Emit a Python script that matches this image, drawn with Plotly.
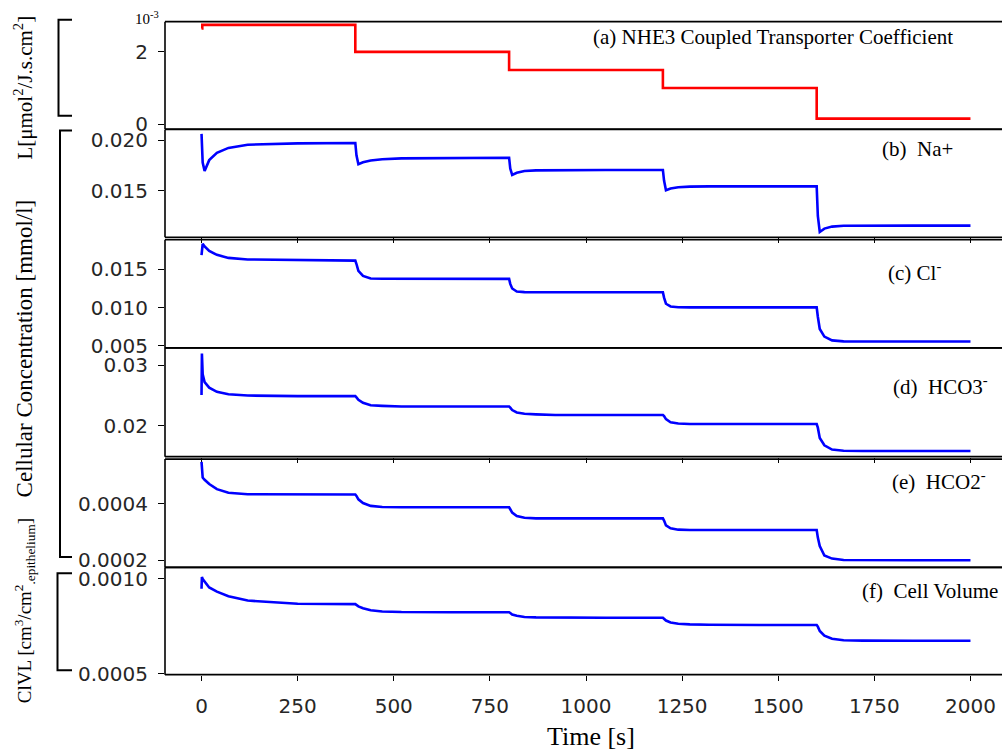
import plotly.graph_objects as go

W, H = 1002, 756

# ---- data -------------------------------------------------------------
# NHE3 coupled transporter coefficient, lowered every 400 s
time_L = [0, 2, 400, 800, 1200, 1600, 2000]
L_nhe3 = [2.65e-3, 2.75e-3, 2.00e-3, 1.50e-3, 1.00e-3, 0.15e-3, 0.15e-3]

# simulation output times for the cellular quantities [s]
time_s = [0, 1, 3, 8, 20, 40, 70, 120, 250,
          400, 403, 408, 420, 440, 470, 520, 650,
          800, 803, 808, 820, 840, 870, 920, 1050,
          1200, 1203, 1208, 1220, 1240, 1270, 1320, 1450,
          1600, 1603, 1608, 1620, 1640, 1670, 1720, 1850,
          2000]

na_conc = [0.02063, 0.0196, 0.0178, 0.01695, 0.01803, 0.01875, 0.01924, 0.01956, 0.01969,
           0.01973, 0.0185, 0.01762, 0.01782, 0.01800, 0.01812, 0.01820, 0.01826,
           0.01827, 0.0172, 0.01657, 0.01678, 0.01695, 0.01702, 0.01705, 0.01706,
           0.01706, 0.0160, 0.01505, 0.01522, 0.01535, 0.01541, 0.01543, 0.01544,
           0.01544, 0.0125, 0.01092, 0.01125, 0.01145, 0.01153, 0.01155, 0.01155,
           0.01155]

cl_conc = [0.01686, 0.0178, 0.01835, 0.0180, 0.0174, 0.0169, 0.0165, 0.0163, 0.0162,
           0.01615, 0.0157, 0.0148, 0.01415, 0.0138, 0.01377, 0.01376, 0.01376,
           0.01376, 0.0131, 0.0125, 0.0121, 0.01202, 0.0120, 0.0120, 0.0120,
           0.0120, 0.0113, 0.0105, 0.01015, 0.01004, 0.01002, 0.01002, 0.01002,
           0.01002, 0.0088, 0.0072, 0.0062, 0.0057, 0.00558, 0.00555, 0.00555,
           0.00555]

hco3_conc = [0.0251, 0.0319, 0.0285, 0.0272, 0.0263, 0.0256, 0.0252, 0.0250, 0.0249,
             0.0249, 0.0247, 0.0243, 0.0238, 0.0234, 0.0233, 0.0232, 0.0232,
             0.0232, 0.0230, 0.0226, 0.0222, 0.0220, 0.0219, 0.0218, 0.0218,
             0.0218, 0.0216, 0.0211, 0.0206, 0.0204, 0.0203, 0.0203, 0.0203,
             0.0203, 0.0197, 0.0180, 0.0168, 0.0161, 0.0159, 0.01585, 0.01585,
             0.01585]

hco2_conc = [0.000547, 0.000500, 0.000492, 0.000484, 0.000469, 0.000451, 0.000438, 0.000433, 0.000432,
             0.000432, 0.000427, 0.000415, 0.000402, 0.000392, 0.000388, 0.000387, 0.000387,
             0.000387, 0.000380, 0.000368, 0.000356, 0.000350, 0.000348, 0.000348, 0.000348,
             0.000348, 0.000340, 0.000323, 0.000313, 0.000308, 0.000307, 0.000307, 0.000307,
             0.000307, 0.000280, 0.000250, 0.000217, 0.000206, 0.000201, 0.000200, 0.000200,
             0.000200]

cell_volume = [0.000948, 0.001010, 0.001000, 0.000985, 0.000955, 0.000933, 0.000909, 0.000886, 0.000869,
               0.000867, 0.000862, 0.000855, 0.000845, 0.000835, 0.000828, 0.000825, 0.000824,
               0.000824, 0.000820, 0.000812, 0.000805, 0.000799, 0.000797, 0.000796, 0.000795,
               0.000795, 0.000790, 0.000780, 0.000770, 0.000763, 0.000760, 0.000758, 0.000757,
               0.000757, 0.000748, 0.000725, 0.000700, 0.000684, 0.000676, 0.000674, 0.000673,
               0.000673]

x_tickvals = [0, 250, 500, 750, 1000, 1250, 1500, 1750, 2000]

L_tickvals, L_ticktext = [0, 2e-3], ["0", "2"]
na_tickvals, na_ticktext = [0.015, 0.020], ["0.015", "0.020"]
cl_tickvals, cl_ticktext = [0.005, 0.010, 0.015], ["0.005", "0.010", "0.015"]
hco3_tickvals, hco3_ticktext = [0.02, 0.03], ["0.02", "0.03"]
hco2_tickvals, hco2_ticktext = [0.0002, 0.0004], ["0.0002", "0.0004"]
vol_tickvals, vol_ticktext = [0.0005, 0.0010], ["0.0005", "0.0010"]

panel_labels = ["(a) NHE3 Coupled Transporter Coefficient", "(b)  Na+", "(c) Cl<sup>-</sup>",
                "(d)  HCO3<sup>-</sup>", "(e)  HCO2<sup>-</sup>", "(f)  Cell Volume"]

# ---- layout helpers (pixel geometry of the stacked panels) ------------
def px(x):
    return x / W


def py(y):
    return 1 - y / H


LEFT = 165.0
rows = [(21, 130), (130.5, 240), (242.5, 352.5), (352.5, 463), (465.5, 575.5), (575.5, 684.5)]
y_ranges = [(-0.136e-3, 2.838e-3), (0.0104, 0.02107), (0.00472, 0.01889),
            (0.01493, 0.03284), (0.000175, 0.000557), (0.000494, 0.0010615)]
x_range = (-95, 2082)

series = [
    (time_L, L_nhe3, "#ff0000", L_tickvals, L_ticktext, "hv"),
    (time_s, na_conc, "#0000ff", na_tickvals, na_ticktext, "linear"),
    (time_s, cl_conc, "#0000ff", cl_tickvals, cl_ticktext, "linear"),
    (time_s, hco3_conc, "#0000ff", hco3_tickvals, hco3_ticktext, "linear"),
    (time_s, hco2_conc, "#0000ff", hco2_tickvals, hco2_ticktext, "linear"),
    (time_s, cell_volume, "#0000ff", vol_tickvals, vol_ticktext, "linear"),
]
label_pos = [(955, 37), (955, 150), (943, 275), (990, 391), (988, 487), (1000, 600)]

tick_font = dict(family="DejaVu Sans", size=20, color="#262626")
serif = "Liberation Serif"

fig = go.Figure()
layout = dict(
    width=W, height=H,
    margin=dict(l=0, r=0, t=0, b=0),
    paper_bgcolor="white", plot_bgcolor="white",
    showlegend=False,
)
shapes = []
annotations = []

for i, (tx, ty, color, tv, tt, shape) in enumerate(series):
    n = "" if i == 0 else str(i + 1)
    top, bot = rows[i]
    fig.add_trace(go.Scatter(
        x=tx, y=ty, mode="lines",
        line=dict(color=color, width=2.6, shape=shape),
        xaxis="x" + n, yaxis="y" + n, hoverinfo="skip",
    ))
    show_xticks = i in (1, 3, 5)
    layout["xaxis" + n] = dict(
        domain=[px(LEFT), 1.0], range=list(x_range), anchor="y" + n,
        showgrid=False, zeroline=False, showline=False,
        tickvals=x_tickvals, ticks="outside" if show_xticks else "",
        ticklen=5, tickwidth=1.3, tickcolor="black",
        showticklabels=(i == 5), tickfont=tick_font, ticklabelstandoff=8,
    )
    layout["yaxis" + n] = dict(
        domain=[py(bot), py(top)], range=list(y_ranges[i]), anchor="x" + n,
        showgrid=False, zeroline=False, showline=False,
        tickvals=tv, ticktext=tt, ticks="outside",
        ticklen=6, tickwidth=1.3, tickcolor="black",
        tickfont=tick_font, ticklabelstandoff=6,
    )
    # panel frame: left spine, top and bottom edges (open on the right)
    for yy in (top, bot):
        shapes.append(dict(type="line", xref="paper", yref="paper",
                           x0=px(LEFT), x1=1.0, y0=py(yy), y1=py(yy),
                           line=dict(color="black", width=1.6), layer="above"))
    shapes.append(dict(type="line", xref="paper", yref="paper",
                       x0=px(LEFT), x1=px(LEFT), y0=py(bot), y1=py(top),
                       line=dict(color="black", width=1.6), layer="above"))
    lx, ly = label_pos[i]
    annotations.append(dict(
        text=panel_labels[i], xref="paper", yref="paper",
        x=px(lx), y=py(ly), xanchor="right", yanchor="middle",
        showarrow=False, font=dict(family=serif, size=21, color="black"),
    ))

# brackets grouping the y-axis labels
for xb, y0, y1 in [(58.5, 19, 116.5), (60, 131.5, 565), (57.5, 581.5, 680)]:
    shapes.append(dict(
        type="path", xref="paper", yref="paper",
        path=f"M {px(72)},{py(y0)} L {px(xb)},{py(y0)} L {px(xb)},{py(y1)} L {px(72)},{py(y1)}",
        line=dict(color="black", width=2),
    ))

# axis titles
annotations += [
    dict(text="L[μmol<sup>2</sup>/J.s.cm<sup>2</sup>]", x=px(24), y=py(88),
         textangle=-90, font=dict(family=serif, size=21, color="black")),
    dict(text="Cellular Concentration [mmol/l]", x=px(24), y=py(353),
         textangle=-90, font=dict(family=serif, size=23, color="black")),
    dict(text="ClVL [cm<sup>3</sup>/cm<sup>2</sup><sub>.epithelium</sub>]", x=px(24), y=py(620),
         textangle=-90, font=dict(family=serif, size=19, color="black")),
    dict(text="Time [s]", x=px(591), y=py(747),
         font=dict(family=serif, size=26, color="black")),
    dict(text="10<sup>-3</sup>", x=px(133), y=py(17), xanchor="left",
         font=dict(family=serif, size=15, color="black")),
]
for a in annotations[-5:]:
    a.update(xref="paper", yref="paper", showarrow=False,
             xanchor=a.get("xanchor", "center"), yanchor="middle")

layout["shapes"] = shapes
layout["annotations"] = annotations
fig.update_layout(**layout)
fig.write_html("out.html")
